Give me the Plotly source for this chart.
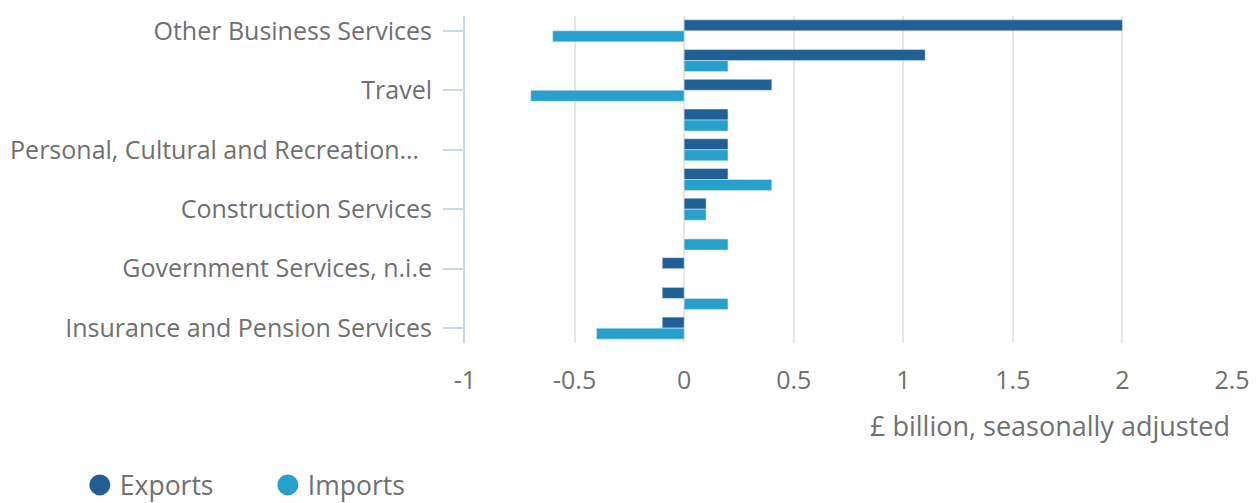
import plotly.graph_objects as go

categories = [
    "Other Business Services",
    "Telecommunications, Computer and Information Services",
    "Travel",
    "Transport",
    "Personal, Cultural and Recreation…\u00a0\u00a0",
    "Financial Services",
    "Construction Services",
    "Maintenance and Repair Services",
    "Government Services, n.i.e",
    "Charges for the use of Intellectual Property",
    "Insurance and Pension Services",
]
exports = [2.0, 1.1, 0.4, 0.2, 0.2, 0.2, 0.1, 0.0, -0.1, -0.1, -0.1]
imports = [-0.6, 0.2, -0.7, 0.2, 0.2, 0.4, 0.1, 0.2, 0.0, 0.2, -0.4]
shown_labels = categories[::2]
x_ticks = [-1, -0.5, 0, 0.5, 1, 1.5, 2, 2.5]
x_tick_text = ["-1", "-0.5", "0", "0.5", "1", "1.5", "2", "2.5"]

EXP_COL = "#206095"
IMP_COL = "#27a0cc"
TXT = "#707070"
FONT = "Open Sans"

fig = go.Figure()
fig.add_trace(go.Bar(y=categories, x=exports, orientation="h", name="Exports",
                     marker_color=EXP_COL, showlegend=False))
fig.add_trace(go.Bar(y=categories, x=imports, orientation="h", name="Imports",
                     marker_color=IMP_COL, showlegend=False))
# legend entries as circles
for nm, col in [("Exports", EXP_COL), ("Imports", IMP_COL)]:
    fig.add_trace(go.Scatter(x=[None], y=[None], mode="markers", name=nm,
                             marker=dict(symbol="circle", size=16, color=col,
                                         line=dict(color=col, width=13))))

fig.update_layout(
    width=1249, height=495,
    margin=dict(l=457, r=25, t=8, b=160, autoexpand=False),
    paper_bgcolor="white", plot_bgcolor="white",
    font=dict(family=FONT, color=TXT, size=25),
    barmode="group", bargap=0.26, bargroupgap=0,
    showlegend=True,
    legend=dict(orientation="h", xref="container", yref="container",
                x=0.0575, y=0.036, xanchor="left", yanchor="middle",
                font=dict(size=26.5, color=TXT), entrywidth=143,
                entrywidthmode="pixels", itemclick=False),
    annotations=[dict(text="£ billion, seasonally adjusted", xref="paper", yref="paper",
                      x=1, y=-0.251, xanchor="right", yanchor="middle",
                      showarrow=False, font=dict(size=27, color=TXT))],
)
fig.update_xaxes(range=[-1, 2.5], tickvals=x_ticks, ticktext=x_tick_text,
                 showgrid=True, gridcolor="#e6e6e6", gridwidth=2, automargin=False,
                 zeroline=False, showline=False, ticks="",
                 ticklabelstandoff=20, tickfont=dict(size=25, color=TXT))
fig.update_yaxes(type="category", categoryorder="array", categoryarray=categories,
                 autorange="reversed", tickvals=shown_labels, ticktext=shown_labels,
                 showgrid=False, zeroline=False, automargin=False,
                 showline=True, linecolor="#ccd6eb", linewidth=2,
                 ticks="outside", ticklen=20, tickcolor="#ccd6eb", tickwidth=2,
                 ticklabelstandoff=6, tickfont=dict(size=25, color=TXT))

fig.write_html("out.html")
